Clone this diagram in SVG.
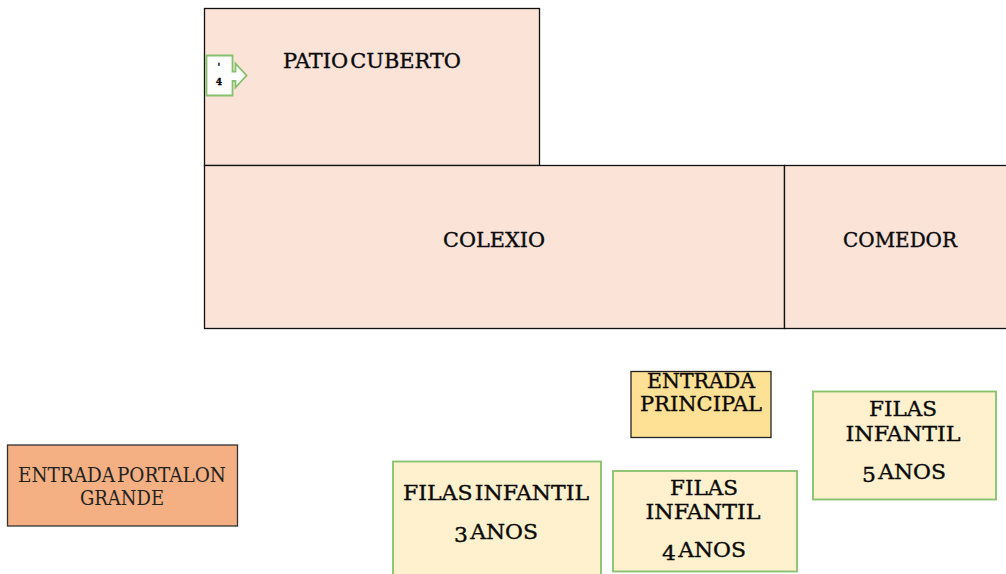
<svg xmlns="http://www.w3.org/2000/svg" width="1006" height="574" viewBox="0 0 1006 574">
<style>
text{font-family:"DejaVu Serif Condensed","DejaVu Serif","Liberation Serif",serif;fill:#0a0a0a;stroke:#0a0a0a;stroke-width:.35;text-anchor:middle;font-size:21px;word-spacing:-4px}
text.l{stroke:none;font-size:20px;fill:#222}
text.s{font-size:10px;font-weight:bold}
.b{stroke:#111;stroke-width:1.3}
.room{fill:#fbe3d8}
.g{fill:#fff1cd;stroke:#85c06a;stroke-width:1.8}
</style>
<rect width="1006" height="574" fill="#fff"/>
<g id="patio"><rect class="room b" x="204.500" y="8.500" width="335" height="157"/><text x="372" y="68" textLength="178" lengthAdjust="spacingAndGlyphs">PATIO CUBERTO</text></g>
<g id="colexio"><rect class="room b" x="204.500" y="165.500" width="580" height="163"/><text x="494" y="247" textLength="102" lengthAdjust="spacingAndGlyphs">COLEXIO</text></g>
<g id="comedor"><rect class="room b" x="784.500" y="165.500" width="223" height="163"/><text x="900" y="247" textLength="114" lengthAdjust="spacingAndGlyphs">COMEDOR</text></g>
<g id="arrow"><path d="M206.500 55.500H232.500V71.500H235.500V63.500L246.500 75.500L235.500 87.500V81H232.500V95.500H206.500Z" fill="#fff" stroke="#85c06a" stroke-width="1.8"/><text class="s" x="219" y="70">'</text><text class="s" x="219" y="85">4</text></g>
<g id="entrada-principal"><rect x="631" y="371.500" width="140" height="66" fill="#ffe195" stroke="#222" stroke-width="1.3"/><text x="701" y="388" textLength="108" lengthAdjust="spacingAndGlyphs">ENTRADA</text><text x="701" y="411" textLength="122" lengthAdjust="spacingAndGlyphs">PRINCIPAL</text></g>
<g id="entrada-portalon"><rect x="7.500" y="445" width="230" height="81" fill="#f4b083" stroke="#333" stroke-width="1.3"/><text class="l" x="122" y="482" textLength="208" lengthAdjust="spacingAndGlyphs">ENTRADA PORTALON</text><text class="l" x="122" y="505" textLength="84" lengthAdjust="spacingAndGlyphs">GRANDE</text></g>
<g id="filas-3"><rect class="g" x="393" y="461.500" width="208" height="120"/><text x="496" y="500" textLength="186" lengthAdjust="spacingAndGlyphs">FILAS INFANTIL</text><text x="496" y="539" textLength="84" lengthAdjust="spacingAndGlyphs"><tspan dy="3">3</tspan><tspan dy="-3"> ANOS</tspan></text></g>
<g id="filas-4"><rect class="g" x="613" y="471" width="184" height="100.500"/><text x="704" y="495" textLength="68" lengthAdjust="spacingAndGlyphs">FILAS</text><text x="703" y="519" textLength="115" lengthAdjust="spacingAndGlyphs">INFANTIL</text><text x="704" y="557" textLength="84" lengthAdjust="spacingAndGlyphs"><tspan dy="3">4</tspan><tspan dy="-3"> ANOS</tspan></text></g>
<g id="filas-5"><rect class="g" x="813" y="391.500" width="183" height="108"/><text x="903" y="416" textLength="68" lengthAdjust="spacingAndGlyphs">FILAS</text><text x="903" y="441" textLength="115" lengthAdjust="spacingAndGlyphs">INFANTIL</text><text x="904" y="479" textLength="84" lengthAdjust="spacingAndGlyphs"><tspan dy="3">5</tspan><tspan dy="-3"> ANOS</tspan></text></g>
<g id="connectors"></g>
</svg>
